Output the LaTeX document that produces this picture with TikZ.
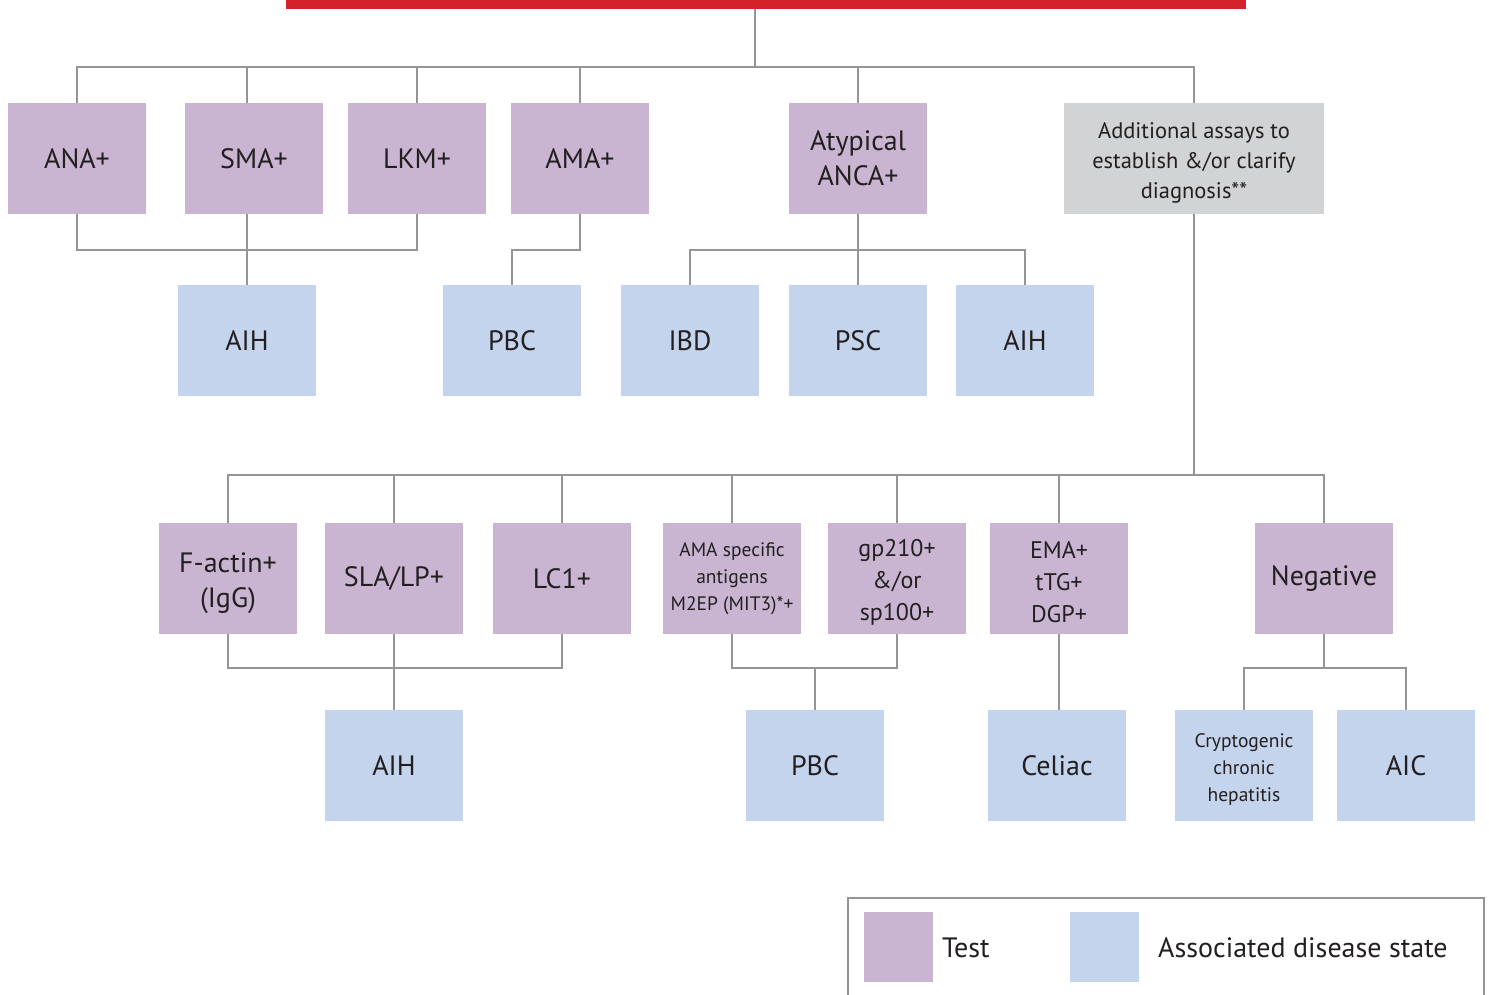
\documentclass[tikz,border=0pt]{standalone}
\usepackage{fontspec}
\setmainfont{PT Sans}
\definecolor{testc}{HTML}{C9B5D2}
\definecolor{disc}{HTML}{C4D4EC}
\definecolor{morec}{HTML}{D1D3D4}
\definecolor{linec}{HTML}{939598}
\definecolor{barred}{HTML}{D2232A}
\definecolor{txtc}{HTML}{231F20}
\begin{document}
\begin{tikzpicture}[x=1pt,y=-1pt,
  test/.style={fill=testc, minimum width=138pt, minimum height=111pt, inner sep=0pt,
    align=center, text=txtc, font=\fontsize{28}{35}\selectfont},
  dis/.style={test, fill=disc},
  midtxt/.style={font=\fontsize{24}{32}\selectfont, text height=88pt},
  smalltxt/.style={font=\fontsize{19.5}{27}\selectfont},
  link/.style={draw=linec, line width=2pt}]
  \useasboundingbox (0,0) rectangle (1489,994);

  % title bar
  \node[fill=barred, minimum width=960pt, minimum height=9pt, inner sep=0pt, anchor=north] (bar) at (766,0) {};
  \coordinate (top) at (755,67);
  \coordinate (k1) at (0,250);
  \coordinate (k2) at (0,475);
  \coordinate (k3) at (0,668);

  % first tests
  \node[test] (ana) at (77,158.5) {ANA+};
  \node[test] (sma) at (254,158.5) {SMA+};
  \node[test] (lkm) at (417,158.5) {LKM+};
  \node[test] (ama) at (580,158.5) {AMA+};
  \node[test] (anca) at (858,158.5) {Atypical\\ANCA+};
  \node[test, fill=morec, minimum width=260pt, font=\fontsize{22.5}{30}\selectfont, text height=85pt] (add) at (1194,158.5)
    {Additional assays to\\establish \&/or clarify\\diagnosis**};

  \node[dis] (aihA) at (247,340.5) {AIH};
  \node[dis] (pbcA) at (512,340.5) {PBC};
  \node[dis] (ibd) at (690,340.5) {IBD};
  \node[dis] (psc) at (858,340.5) {PSC};
  \node[dis] (aihB) at (1025,340.5) {AIH};

  % additional assays
  \node[test, text height=65pt] (factin) at (228,578.5) {F-actin+\\(IgG)};
  \node[test] (sla) at (394,578.5) {SLA/LP+};
  \node[test] (lc) at (562,578.5) {LC1+};
  \node[test, smalltxt] (amasp) at (732,578.5) {AMA specific\\antigens\\M2EP (MIT3)*+};
  \node[test, midtxt] (gp) at (897,578.5) {gp210+\\\&/or\\sp100+};
  \node[test, midtxt] (ema) at (1059,578.5) {EMA+\\tTG+\\DGP+};
  \node[test] (neg) at (1324,578.5) {Negative};

  \node[dis] (aihC) at (394,765.5) {AIH};
  \node[dis] (pbcB) at (815,765.5) {PBC};
  \node[dis] (celiac) at (1057,765.5) {Celiac};
  \node[dis, smalltxt, text height=75pt] (crypto) at (1244,765.5) {Cryptogenic\\chronic\\hepatitis};
  \node[dis] (aic) at (1406,765.5) {AIC};

  \draw[link] (bar.south -| top) -- (top);
  \draw[link] (ana.north) |- (top) -| (add.north);
  \draw[link] (sma.north -| aihA.north) -- (aihA.north |- top);
  \foreach \n in {lkm,ama,anca}
    \draw[link] (\n.north) -- (\n.north |- top);
  \draw[link] (ana.south) |- (k1 -| lkm.south) -- (lkm.south);
  \draw[link] (sma.south -| aihA.north) -- (aihA.north);
  \draw[link] (ama.south) -- (ama.south |- k1) -| (pbcA.north);
  \draw[link] (anca.south) -- (psc.north);
  \draw[link] (ibd.north) |- (k1 -| aihB.north) -- (aihB.north);

  \draw[link] (add.south) -- (add.south |- k2);
  \draw[link] (factin.north) |- (k2 -| neg.north) -- (neg.north);
  \foreach \n in {sla,lc,amasp,gp,ema}
    \draw[link] (\n.north) -- (\n.north |- k2);
  \draw[link] (factin.south) |- (k3 -| lc.south) -- (lc.south);
  \draw[link] (sla.south) -- (aihC.north);
  \draw[link] (amasp.south) |- (k3 -| gp.south) -- (gp.south);
  \draw[link] (pbcB.north) -- (pbcB.north |- k3);
  \draw[link] (ema.south) -- (celiac.north -| ema.south);
  \draw[link] (neg.south) -- (neg.south |- k3);
  \draw[link] (crypto.north) |- (k3 -| aic.north) -- (aic.north);

  % legend
  \draw[draw=linec, line width=2.5pt] (848,1000) |- (1484,898) -- (1484,1000);
  \node[fill=testc, minimum width=69pt, minimum height=70pt, inner sep=0pt] (keyt) at (898,947) {};
  \node[fill=disc, minimum width=69pt, minimum height=70pt, inner sep=0pt] (keyd) at (1104.5,947) {};
  \node[anchor=west, inner sep=0pt, text=txtc, font=\fontsize{28}{35}\selectfont] (keytl) at (942,948) {Test};
  \node[anchor=west, inner sep=0pt, text=txtc, font=\fontsize{28}{35}\selectfont] (keydl) at (1158,948) {Associated disease state};
\end{tikzpicture}
\end{document}
